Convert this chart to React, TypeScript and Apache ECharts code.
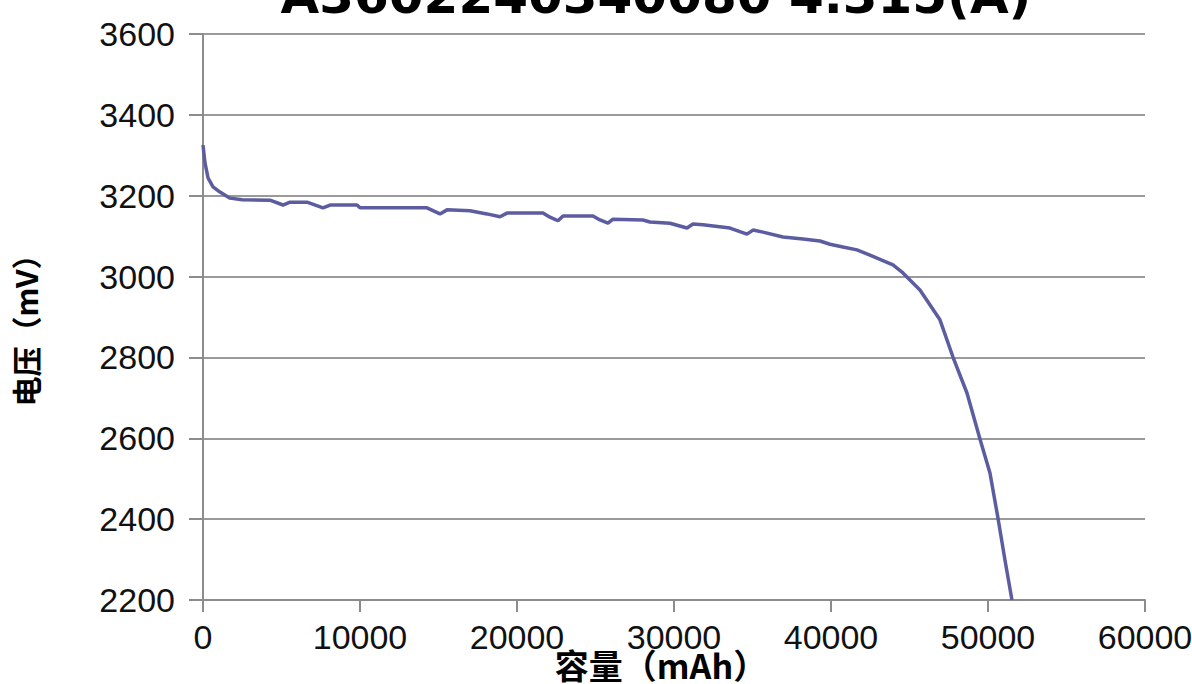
import React, { useEffect, useRef } from "react";
import * as echarts from "echarts";

const titleText = "A3602240340080 4.315(A)";
const xAxisName = "容量（mAh）";
const yAxisName = "电压（mV）";

const capacity = [
  0, 127, 320, 637, 1083, 1720, 2500, 4267, 5095, 5541, 6624, 7643, 8089, 9808, 10000,
  14267, 15095, 15540, 17005, 18088, 18916, 19362, 21655, 22100, 22610, 22930, 24840,
  25285, 25795, 26113, 28024, 28470, 29744, 30826, 31208, 31845, 33565, 34647, 35030,
  35667, 36940, 38214, 39297, 39934, 40762, 41654, 42481, 43946, 44583, 45666, 46940,
  47768, 48660, 49488, 50125, 50634, 51080, 51525,
];

const voltage = [
  3325, 3281, 3244, 3222, 3209, 3194, 3190, 3189, 3177, 3184, 3184, 3170, 3177, 3177, 3170,
  3170, 3155, 3165, 3163, 3155, 3148, 3157, 3157, 3147, 3138, 3150, 3150,
  3140, 3132, 3142, 3140, 3135, 3132, 3120, 3130, 3128, 3120, 3105, 3115,
  3110, 3098, 3093, 3088, 3080, 3073, 3066, 3053, 3029, 3009, 2967, 2893,
  2801, 2712, 2598, 2514, 2403, 2299, 2200,
];

const xMin = 0;
const xMax = 60000;
const xStep = 10000;
const yMin = 2200;
const yMax = 3600;
const yStep = 200;

export default function App() {
  const ref = useRef<HTMLDivElement>(null);

  useEffect(() => {
    if (!ref.current) return;
    const chart = echarts.init(ref.current, null, { renderer: "svg" });
    const data = capacity.map((c, i) => [c, voltage[i]]);
    const labelFont = "'Liberation Sans', Arial, sans-serif";
    const cjkFont = "'Noto Sans CJK SC', 'Noto Sans', sans-serif";
    const plain = (v: number) => String(v);

    chart.setOption({
      animation: false,
      backgroundColor: "#ffffff",
      grid: {
        left: 203,
        right: 47,
        top: 34,
        bottom: 84,
        containLabel: false,
        outerBoundsMode: "none",
      },
      graphic: [
        {
          type: "text",
          x: 656,
          y: -4,
          style: {
            text: titleText,
            fill: "#000000",
            font: "bold 50px 'DejaVu Sans', sans-serif",
            textAlign: "center",
            textVerticalAlign: "middle",
          },
        },
      ],
      xAxis: {
        type: "value",
        min: xMin,
        max: xMax,
        interval: xStep,
        name: xAxisName,
        nameLocation: "middle",
        nameGap: 47,
        nameMoveOverlap: false,
        nameTextStyle: {
          fontFamily: cjkFont,
          fontWeight: "bold",
          fontSize: 34,
          color: "#000000",
          padding: [0, 26, 0, 0],
        },
        axisLine: { show: true, lineStyle: { color: "#8c8c8c", width: 2 } },
        axisTick: { show: true, length: 12, lineStyle: { color: "#8c8c8c", width: 2 } },
        axisLabel: {
          margin: 20,
          fontFamily: labelFont,
          fontSize: 34,
          color: "#111111",
          formatter: plain,
        },
        splitLine: { show: false },
      },
      yAxis: {
        type: "value",
        min: yMin,
        max: yMax,
        interval: yStep,
        name: yAxisName,
        nameLocation: "middle",
        nameGap: 163,
        nameMoveOverlap: false,
        nameTextStyle: {
          fontFamily: cjkFont,
          fontWeight: "bold",
          fontSize: 30,
          color: "#000000",
          padding: [0, 12, 0, 0],
        },
        axisLine: { show: true, lineStyle: { color: "#8c8c8c", width: 2 } },
        axisTick: { show: true, length: 14, lineStyle: { color: "#8c8c8c", width: 2 } },
        axisLabel: {
          margin: 28,
          fontFamily: labelFont,
          fontSize: 34,
          color: "#111111",
          padding: [0, 0, 8, 0],
          formatter: plain,
        },
        splitLine: { show: true, lineStyle: { color: "#9a9a9a", width: 2 } },
      },
      series: [
        {
          type: "line",
          data,
          showSymbol: false,
          symbol: "none",
          clip: true,
          lineStyle: { color: "#5c5ca0", width: 3.5 },
        },
      ],
    });

    return () => chart.dispose();
  }, []);

  return (
    <div
      ref={ref}
      style={{ position: "fixed", left: 0, top: 0, width: 1192, height: 684, background: "#fff" }}
    />
  );
}
